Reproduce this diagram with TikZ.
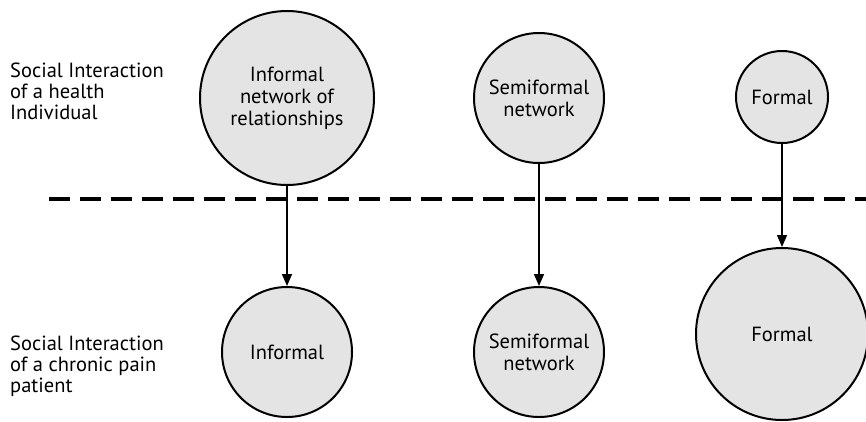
\documentclass[tikz,border=0pt]{standalone}
\usepackage{fontspec}
\setmainfont{PT Sans}
\usetikzlibrary{arrows.meta}
\definecolor{cfill}{HTML}{E4E4E4}
\tikzset{
  bubble/.style={circle, draw=black, line width=2pt, fill=cfill, inner sep=0pt, align=center, font=\fontsize{20.5}{22}\selectfont},
  side/.style={anchor=west, align=left, inner sep=0pt, font=\fontsize{20.5}{21}\selectfont},
  arr/.style={-{Triangle[width=10pt,length=12pt]}, line width=1.5pt},
  divider/.style={line width=4pt, dash pattern=on 21pt off 10pt}
}
\begin{document}
\begin{tikzpicture}[x=1pt,y=-1pt]
\useasboundingbox (0,0) rectangle (866,421);
% dashed divider
\coordinate (dl) at (49,199);
\coordinate (dr) at (866,199);
\draw[divider] (dl) -- (dr);
% side labels
\node[side] (lt) at (10,91) {Social Interaction\\of a health\\Individual};
\node[side] (lb) at (10,366) {Social Interaction\\of a chronic pain\\patient};
% top circles
\node[bubble, minimum size=174pt] (t1) at (287,98) {Informal\\network of\\relationships};
\node[bubble, minimum size=130pt] (t2) at (539,98) {Semiformal\\network};
\node[bubble, minimum size=92pt] (t3) at (782,97) {Formal};
% bottom circles
\node[bubble, minimum size=130pt] (b1) at (287,352) {Informal};
\node[bubble, minimum size=130pt] (b2) at (539,352) {Semiformal\\network};
\node[bubble, minimum size=172pt] (b3) at (782,334) {Formal};
% arrows
\draw[arr] (t1) -- (b1);
\draw[arr] (t2) -- (b2);
\draw[arr] (t3) -- (b3);
\end{tikzpicture}
\end{document}
